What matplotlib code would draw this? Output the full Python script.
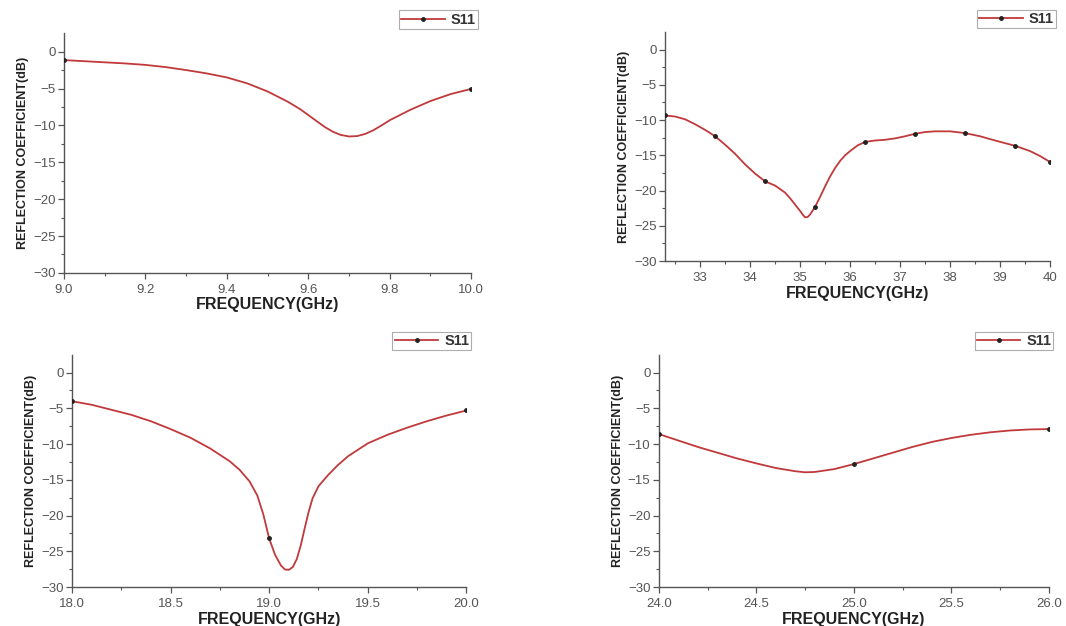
import numpy as np
import matplotlib
matplotlib.use("Agg")
import matplotlib.pyplot as plt

plt.rcParams['font.family'] = ['Liberation Sans', 'DejaVu Sans']

# ---- data ----
# panel 1 : 9 - 10 GHz
f1 = [9.0, 9.05, 9.1, 9.15, 9.2, 9.25, 9.3, 9.35, 9.4, 9.45, 9.5, 9.55, 9.58, 9.6,
      9.62, 9.64, 9.66, 9.68, 9.7, 9.72, 9.74, 9.76, 9.78, 9.8, 9.85, 9.9, 9.95, 10.0]
s1 = [-1.15, -1.3, -1.45, -1.6, -1.8, -2.1, -2.5, -2.95, -3.5, -4.3, -5.4, -6.8, -7.8, -8.6,
      -9.4, -10.2, -10.85, -11.3, -11.5, -11.45, -11.15, -10.65, -10.0, -9.3, -7.9, -6.7, -5.75, -5.05]
m1 = [9.0, 10.0]

# panel 2 : 32.3 - 40 GHz
f2 = [32.3, 32.5, 32.7, 32.9, 33.1, 33.3, 33.5, 33.7, 33.9, 34.1, 34.3, 34.5,
      34.7, 34.8, 34.9, 35.0, 35.05, 35.1, 35.15, 35.2, 35.3, 35.4, 35.5, 35.6,
      35.7, 35.8, 35.9, 36.0, 36.15, 36.3, 36.5, 36.7, 36.9, 37.1, 37.3, 37.5,
      37.7, 38.0, 38.3, 38.6, 38.9, 39.3, 39.6, 39.8, 40.0]
s2 = [-9.35, -9.5, -9.9, -10.6, -11.4, -12.3, -13.5, -14.8, -16.3, -17.6, -18.7, -19.3,
      -20.3, -21.1, -22.0, -22.9, -23.4, -23.8, -23.75, -23.4, -22.3, -20.9, -19.4, -18.0,
      -16.8, -15.8, -15.0, -14.4, -13.6, -13.1, -12.9, -12.8, -12.6, -12.3, -11.95, -11.7,
      -11.6, -11.6, -11.85, -12.3, -12.9, -13.65, -14.4, -15.1, -15.95]
m2 = [32.3, 33.3, 34.3, 35.3, 36.3, 37.3, 38.3, 39.3, 40.0]

# panel 3 : 18 - 20 GHz
f3 = [18.0, 18.1, 18.2, 18.3, 18.4, 18.5, 18.6, 18.7, 18.8, 18.85, 18.9, 18.94, 18.97,
      19.0, 19.03, 19.06, 19.08, 19.1, 19.12, 19.14, 19.16, 19.18, 19.2, 19.22, 19.25,
      19.3, 19.35, 19.4, 19.5, 19.6, 19.7, 19.8, 19.9, 20.0]
s3 = [-4.0, -4.5, -5.2, -5.9, -6.8, -7.9, -9.1, -10.6, -12.4, -13.6, -15.2, -17.2, -19.8,
      -23.2, -25.5, -27.0, -27.55, -27.6, -27.2, -26.1, -24.2, -21.8, -19.5, -17.6, -15.9,
      -14.3, -12.9, -11.7, -9.9, -8.7, -7.7, -6.8, -6.0, -5.3]
m3 = [18.0, 19.0, 20.0]

# panel 4 : 24 - 26 GHz
f4 = [24.0, 24.1, 24.2, 24.3, 24.4, 24.5, 24.6, 24.7, 24.75, 24.8, 24.9, 25.0,
      25.1, 25.2, 25.3, 25.4, 25.5, 25.6, 25.7, 25.8, 25.9, 26.0]
s4 = [-8.6, -9.5, -10.4, -11.2, -12.0, -12.7, -13.35, -13.8, -13.95, -13.9, -13.5, -12.8,
      -12.0, -11.2, -10.4, -9.7, -9.15, -8.7, -8.35, -8.1, -7.95, -7.9]
m4 = [24.0, 25.0, 26.0]

panels = [
    (f1, s1, m1, [9.0, 9.2, 9.4, 9.6, 9.8, 10.0], np.arange(9.1, 10.0, 0.2), (9.0, 10.0), '%.1f'),
    (f2, s2, m2, [33, 34, 35, 36, 37, 38, 39, 40], np.arange(32.5, 40, 1.0), (32.3, 40.0), '%d'),
    (f3, s3, m3, [18.0, 18.5, 19.0, 19.5, 20.0], np.arange(18.25, 20, 0.5), (18.0, 20.0), '%.1f'),
    (f4, s4, m4, [24.0, 24.5, 25.0, 25.5, 26.0], np.arange(24.25, 26, 0.5), (24.0, 26.0), '%.1f'),
]
yticks = [0, -5, -10, -15, -20, -25, -30]

# axes rectangles in figure fractions
rects = [
    [0.060, 0.564, 0.382, 0.383],
    [0.624, 0.583, 0.361, 0.366],
    [0.0675, 0.0623, 0.370, 0.371],
    [0.618, 0.0623, 0.366, 0.371],
]
legend_pos = [(0.451, 0.988), (0.993, 0.989), (0.445, 0.475), (0.991, 0.475)]

line_col = '#c0393b'
grey = '#555555'

fig = plt.figure(figsize=(10.66, 6.26), dpi=100)

for (f, s, m, xt, xmin_t, xl, fmt), rect, lp in zip(panels, rects, legend_pos):
    ax = fig.add_axes(rect)
    mk = np.interp(m, f, s)
    ax.plot(f, s, color=line_col, lw=1.3, zorder=2)
    ax.plot(m, mk, ls='none', marker='o', ms=2.5, color='#222222', zorder=3)
    ax.set_xlim(*xl)
    ax.set_ylim(-30, 2.5)
    ax.set_yticks(yticks)
    ax.set_yticks(np.arange(-27.5, 2.5, 5), minor=True)
    ax.set_xticks(xt)
    ax.set_xticks(xmin_t, minor=True)
    ax.set_xticklabels([fmt % v for v in xt])
    ax.set_yticklabels(['%d' % v if v == 0 else '\u2212%d' % -v for v in yticks])
    for side in ['top', 'right']:
        ax.spines[side].set_visible(False)
    for side in ['left', 'bottom']:
        ax.spines[side].set_color(grey)
        ax.spines[side].set_linewidth(1.0)
    ax.tick_params(which='major', direction='out', length=4, width=0.9,
                   color=grey, labelcolor='#555555', labelsize=9.5)
    ax.tick_params(axis='x', which='major', pad=4)
    ax.tick_params(axis='y', which='major', pad=2)
    ax.tick_params(which='minor', direction='out', length=2, width=0.8, color=grey)
    ax.set_xlabel('FREQUENCY(GHz)', fontsize=11.5, fontweight='bold',
                  color='#222222', labelpad=1)
    ax.set_ylabel('REFLECTION COEFFICIENT(dB)', fontsize=9, fontweight='bold',
                  color='#222222', labelpad=3)
    h = plt.Line2D([], [], color=line_col, lw=1.3, marker='o', ms=2.5,
                   markerfacecolor='#222222', markeredgecolor='#222222')
    leg = fig.legend([h], ['S11'], loc='upper right', bbox_to_anchor=lp,
                     fancybox=False, frameon=True, edgecolor='#999999',
                     prop={'size': 10.5, 'weight': 'bold'}, handlelength=3.0,
                     borderpad=0.15, handletextpad=0.4, borderaxespad=0.2)
    leg.get_frame().set_linewidth(0.8)
    for t in leg.get_texts():
        t.set_color('#333333')

fig.savefig('out.png', dpi=100, facecolor='white')
